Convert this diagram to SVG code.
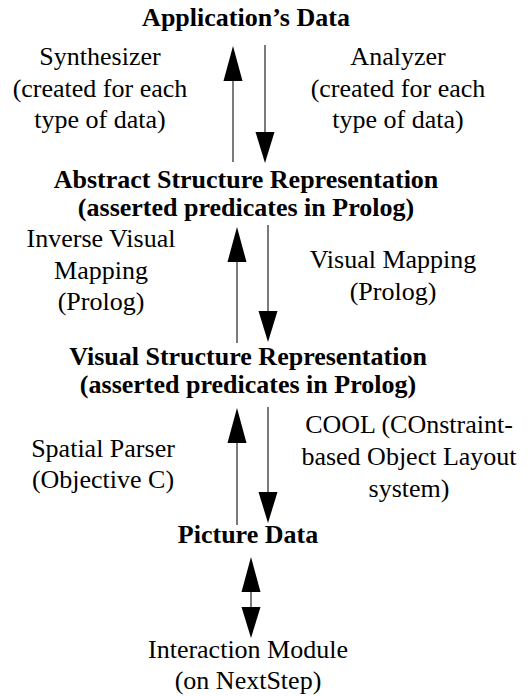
<svg xmlns="http://www.w3.org/2000/svg" width="528" height="697" viewBox="0 0 528 697" font-family="'Liberation Serif', 'DejaVu Serif', serif">
  <style>
    text { font-family: "Liberation Serif", "DejaVu Serif", serif; font-size: 26px; fill: #000; text-anchor: middle; }
    .node text { font-weight: bold; }
    .shaft { stroke: #333; stroke-width: 1.3; fill: none; }
    .head { fill: #000; }
  </style>
  <defs>
    <!-- arrowhead pointing up, tip at origin -->
    <polygon id="headUp" points="0,0 -9.5,35 9.5,35" class="head"/>
    <!-- arrowhead pointing down, tip at origin -->
    <polygon id="headDown" points="0,0 -9.5,-31 9.5,-31" class="head"/>
  </defs>
  <rect width="528" height="697" fill="#fff"/>

  <g id="app-data" class="node">
    <text x="246" y="26">Application’s Data</text>
  </g>
  <g id="abstract-structure" class="node">
    <text x="246" y="188">Abstract Structure Representation</text>
    <text x="246" y="216">(asserted predicates in Prolog)</text>
  </g>
  <g id="visual-structure" class="node">
    <text x="248" y="365">Visual Structure Representation</text>
    <text x="248" y="393">(asserted predicates in Prolog)</text>
  </g>
  <g id="picture-data" class="node">
    <text x="248" y="543">Picture Data</text>
  </g>
  <g id="interaction-module">
    <text x="248" y="658">Interaction Module</text>
    <text x="248" y="689">(on NextStep)</text>
  </g>

  <g id="connectors">
    <!-- Synthesizer: abstract -> application -->
    <line class="shaft" x1="233" y1="162" x2="233" y2="70"/>
    <use href="#headUp" x="233" y="46"/>
    <!-- Analyzer: application -> abstract -->
    <line class="shaft" x1="265" y1="45" x2="265" y2="140"/>
    <use href="#headDown" x="265" y="163"/>
    <!-- Inverse visual mapping -->
    <line class="shaft" x1="237" y1="343" x2="237" y2="250"/>
    <use href="#headUp" x="237" y="227"/>
    <!-- Visual mapping -->
    <line class="shaft" x1="268" y1="225" x2="268" y2="320"/>
    <use href="#headDown" x="268" y="342"/>
    <!-- Spatial parser -->
    <line class="shaft" x1="237" y1="525" x2="237" y2="432"/>
    <use href="#headUp" x="237" y="408"/>
    <!-- COOL -->
    <line class="shaft" x1="268" y1="407" x2="268" y2="500"/>
    <use href="#headDown" x="268" y="523"/>
    <!-- Picture data <-> interaction module -->
    <line class="shaft" x1="251" y1="580" x2="251" y2="615"/>
    <use href="#headUp" x="251" y="557"/>
    <use href="#headDown" x="251" y="638"/>
  </g>

  <g id="labels">
    <text x="100" y="65">Synthesizer</text>
    <text x="100" y="97">(created for each</text>
    <text x="100" y="128">type of data)</text>
    <text x="398" y="65">Analyzer</text>
    <text x="398" y="97">(created for each</text>
    <text x="398" y="128">type of data)</text>
    <text x="101" y="247">Inverse Visual</text>
    <text x="101" y="279">Mapping</text>
    <text x="101" y="310">(Prolog)</text>
    <text x="393" y="268">Visual Mapping</text>
    <text x="393" y="300">(Prolog)</text>
    <text x="103" y="457">Spatial Parser</text>
    <text x="103" y="488">(Objective C)</text>
    <text x="409" y="433">COOL (COnstraint-</text>
    <text x="409" y="465">based Object Layout</text>
    <text x="409" y="497">system)</text>
  </g>
</svg>
